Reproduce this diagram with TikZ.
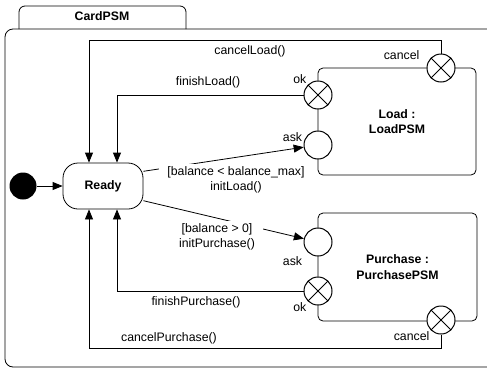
\documentclass[tikz,border=0pt]{standalone}
\usepackage{fontspec}
\setmainfont{Liberation Sans}
\usetikzlibrary{arrows.meta}

\begin{document}
\begin{tikzpicture}
        [x=1pt,y=-1pt,line width=0.8pt,font=\fontsize{12.3}{15.5}\selectfont]
            \tikzstyle{every label}=[inner sep=1pt]
            \tikzstyle{port}=[circle, draw, line width=1pt, fill=white,
        inner sep=0pt, minimum size=28pt]
            \tikzstyle{xport}=[port, path picture={
        \draw (path picture bounding box.north west) -- (path picture bounding box.south east)
              (path picture bounding box.north east) -- (path picture bounding box.south west);}]
            \tikzstyle{tr}=[-{Triangle[length=10pt,width=8pt]}]
            \tikzstyle{trig}=[fill=white, align=center, inner xsep=8pt, inner ysep=3pt]
        \useasboundingbox (0,0) rectangle (487,370);
        %-----frame
         \draw[rounded corners=6pt] (19,29) -- (19,6) -- (186,6) -- (186,29);
         \draw[rounded corners=8pt] (495,29) -- (5,29) -- (5,367) -- (495,367);
         \node (CardPSM) at (102,16) {\bfseries CardPSM};
        %-----states
         \node[circle, fill=black, inner sep=0pt, minimum size=27pt] (init) at (23,186) {};
         \node[draw, rounded corners=15pt, minimum width=80pt, minimum height=46pt]
              (Ready) at (103,186) {\bfseries Ready};
         \node[draw, rounded corners=5pt, align=center, minimum width=158pt, minimum height=107pt]
              (Load) at (397,121.5) {\bfseries Load :\\ \bfseries LoadPSM};
         \node[draw, rounded corners=5pt, align=center, minimum width=159pt, minimum height=108pt]
              (Purchase) at (397.5,267) {\bfseries Purchase :\\ \bfseries PurchasePSM};
        %-----ports
         \node[xport, label=above left:ok]  (LO) at (318,95) {};
         \node[port, label={[yshift=8pt]left:ask}]  (LA) at (318,145) {};
         \node[xport, label={[xshift=-10pt,yshift=-3pt]above left:cancel}]  (LC) at (441,68) {};
         \node[port, label={[yshift=-19pt]left:ask}]  (PA) at (318,242) {};
         \node[xport, label=below left:ok]  (PO) at (318,291) {};
         \node[xport, label=below left:cancel]  (PC) at (441,320) {};

        %-----transitions
         \draw[tr] (init) -- (Ready);
         \draw[tr] (LC.north) -- ++(0,-13) -| ([xshift=-14pt]Ready.north);
         \draw[tr] (LO.west) -| ([xshift=14pt]Ready.north);
         \draw[tr] (PO.west) -| ([xshift=14pt]Ready.south);
         \draw[tr] (PC.south) -- ++(0,14) -| ([xshift=-14pt]Ready.south);
         \foreach \from/\to in {Ready.20/LA,Ready.-20/PA}
         \draw[tr] (\from) -- (\to);

         \node (cancelLoad) at (250,51) {cancelLoad()};
         \node (finishLoad) at (208,82) {finishLoad()};
         \node[trig] (initLoad) at (236,180) {[balance < balance\_max]\\initLoad()};
         \node[trig] (initPurchase) at (217,237) {[balance > 0]\\initPurchase()};
         \node (finishPurchase) at (196,302) {finishPurchase()};
         \node (cancelPurchase) at (169,338) {cancelPurchase()};
        \end{tikzpicture}
\end{document}
